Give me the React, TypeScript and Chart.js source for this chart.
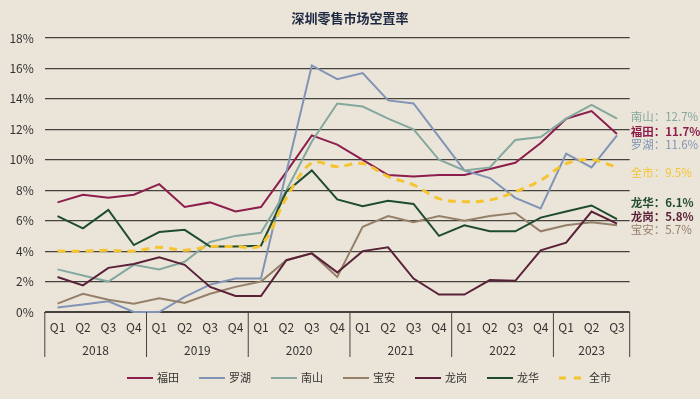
import React, { useEffect, useRef } from 'react';
import { Chart, registerables } from 'chart.js';

Chart.register(...registerables);

// ---------- data ----------
const YEARS = ['2018', '2019', '2020', '2021', '2022', '2023'];
const QUARTERS = ['Q1', 'Q2', 'Q3', 'Q4'];
const LAST_YEAR_QUARTERS = 3;
const CATEGORIES = YEARS.flatMap((y, i) =>
  (i === YEARS.length - 1 ? QUARTERS.slice(0, LAST_YEAR_QUARTERS) : QUARTERS).map((q) => `${y} ${q}`)
);

const FUTIAN = [7.2, 7.7, 7.5, 7.7, 8.4, 6.9, 7.2, 6.6, 6.9, 9.2, 11.6, 11.0, 10.0, 9.0, 8.9, 9.0, 9.0, 9.4, 9.8, 11.1, 12.7, 13.2, 11.7];
const LUOHU = [0.3, 0.5, 0.7, 0.0, 0.0, 1.0, 1.8, 2.2, 2.2, 9.2, 16.2, 15.3, 15.7, 13.9, 13.7, 11.5, 9.3, 8.8, 7.5, 6.8, 10.4, 9.5, 11.6];
const NANSHAN = [2.8, 2.4, 2.0, 3.1, 2.8, 3.3, 4.6, 5.0, 5.2, 8.0, 11.2, 13.7, 13.5, 12.7, 12.0, 10.0, 9.3, 9.5, 11.3, 11.5, 12.7, 13.6, 12.7];
const BAOAN = [0.55, 1.2, 0.8, 0.55, 0.9, 0.6, 1.2, 1.65, 2.0, 3.4, 3.85, 2.3, 5.6, 6.3, 5.9, 6.3, 6.0, 6.3, 6.5, 5.3, 5.7, 5.9, 5.7];
const LONGGANG = [2.3, 1.75, 2.9, 3.15, 3.6, 3.1, 1.65, 1.05, 1.05, 3.4, 3.85, 2.6, 4.0, 4.25, 2.2, 1.15, 1.15, 2.1, 2.05, 4.05, 4.55, 6.6, 5.8];
const LONGHUA = [6.3, 5.5, 6.7, 4.4, 5.25, 5.4, 4.3, 4.3, 4.35, 7.9, 9.3, 7.4, 6.95, 7.3, 7.1, 5.0, 5.7, 5.3, 5.3, 6.2, 6.6, 7.0, 6.1];
const CITY = [4.0, 4.0, 4.05, 4.0, 4.25, 4.05, 4.3, 4.3, 4.4, 7.5, 9.8, 9.55, 9.75, 8.9, 8.35, 7.45, 7.25, 7.35, 7.9, 8.65, 9.75, 10.0, 9.5];

const Y_MIN = 0;
const Y_MAX = 18;
const Y_STEP = 2;

const TITLE = '深圳零售市场空置率';

// ---------- styles ----------
const FONT = '"Noto Sans CJK SC", "Noto Sans", sans-serif';
const BG = '#ebe5d9';
const GRID = '#45413c';
const TEXT = '#333333';

const SERIES = [
  { name: '福田', data: FUTIAN, color: '#8c1d4d', width: 2, dash: [] as number[], tension: 0, bold: true },
  { name: '罗湖', data: LUOHU, color: '#8194b6', width: 2, dash: [] as number[], tension: 0, bold: false },
  { name: '南山', data: NANSHAN, color: '#84a89e', width: 2, dash: [] as number[], tension: 0, bold: false },
  { name: '宝安', data: BAOAN, color: '#95806a', width: 2, dash: [] as number[], tension: 0, bold: false },
  { name: '龙岗', data: LONGGANG, color: '#5a2139', width: 2, dash: [] as number[], tension: 0, bold: true },
  { name: '龙华', data: LONGHUA, color: '#1f4b2e', width: 2, dash: [] as number[], tension: 0, bold: true },
  { name: '全市', data: CITY, color: '#f4c431', width: 3, dash: [8, 6], tension: 0.35, bold: false },
];

// vertical nudges (px) of the end labels so they do not overlap
const LABEL_NUDGE: Record<string, number> = {
  南山: -2, 福田: -2.7, 罗湖: 9.5, 全市: 5.3, 龙华: -16.5, 龙岗: -7, 宝安: 4.8,
};

const titlePlugin = {
  id: 'customTitle',
  afterDraw(chart: any) {
    const { ctx, width } = chart;
    ctx.save();
    ctx.font = `bold 13px ${FONT}`;
    ctx.fillStyle = '#1d2842';
    ctx.textAlign = 'center';
    ctx.textBaseline = 'middle';
    ctx.fillText(TITLE, width / 2, 18);
    ctx.restore();
  },
};

const yearAxisPlugin = {
  id: 'yearAxis',
  afterDraw(chart: any) {
    const { ctx } = chart;
    const xs = chart.scales.x;
    const half = (xs.getPixelForValue(1) - xs.getPixelForValue(0)) / 2;
    const top = xs.top;
    const bottom = xs.top + 45;
    ctx.save();
    ctx.strokeStyle = GRID;
    ctx.lineWidth = 1;
    ctx.fillStyle = TEXT;
    ctx.font = `12px ${FONT}`;
    ctx.textAlign = 'center';
    ctx.textBaseline = 'middle';
    YEARS.forEach((y, yi) => {
      const idx = CATEGORIES.map((c, i) => (c.startsWith(y) ? i : -1)).filter((i) => i >= 0);
      const left = xs.getPixelForValue(idx[0]) - half;
      const right = xs.getPixelForValue(idx[idx.length - 1]) + half;
      ctx.beginPath();
      ctx.moveTo(left, top);
      ctx.lineTo(left, bottom);
      if (yi === YEARS.length - 1) {
        ctx.moveTo(right, top);
        ctx.lineTo(right, bottom);
      }
      ctx.stroke();
      ctx.fillText(y, (left + right) / 2, top + 38);
    });
    ctx.restore();
  },
};

const endLabelPlugin = {
  id: 'endLabels',
  afterDatasetsDraw(chart: any) {
    const { ctx, chartArea } = chart;
    const ys = chart.scales.y;
    ctx.save();
    ctx.textAlign = 'left';
    ctx.textBaseline = 'middle';
    SERIES.forEach((s) => {
      const last = s.data[s.data.length - 1];
      const py = ys.getPixelForValue(last) + (LABEL_NUDGE[s.name] || 0);
      ctx.font = `${s.bold ? 'bold ' : ''}11.5px ${FONT}`;
      ctx.fillStyle = s.color;
      ctx.fillText(`${s.name}：${last.toFixed(1)}%`, chartArea.right + 1, py);
    });
    ctx.restore();
  },
};

const LEGEND_CX = 369;
const LEGEND_Y = 378;
const legendPlugin = {
  id: 'customLegend',
  afterDraw(chart: any) {
    const { ctx } = chart;
    const lineLen = 26;
    const lineGap = 4;
    const itemGap = 20;
    ctx.save();
    ctx.font = `11px ${FONT}`;
    const widths = SERIES.map((s) => lineLen + lineGap + ctx.measureText(s.name).width);
    const total = widths.reduce((a, b) => a + b, 0) + itemGap * (SERIES.length - 1);
    let x = LEGEND_CX - total / 2;
    SERIES.forEach((s, i) => {
      ctx.beginPath();
      ctx.strokeStyle = s.color;
      ctx.lineWidth = s.width;
      ctx.setLineDash(s.dash.length ? [7, 8] : []);
      ctx.moveTo(x, LEGEND_Y);
      ctx.lineTo(x + lineLen, LEGEND_Y);
      ctx.stroke();
      ctx.setLineDash([]);
      ctx.fillStyle = TEXT;
      ctx.textAlign = 'left';
      ctx.textBaseline = 'middle';
      ctx.fillText(s.name, x + lineLen + lineGap, LEGEND_Y);
      x += widths[i] + itemGap;
    });
    ctx.restore();
  },
};

export default function App() {
  const canvasRef = useRef<HTMLCanvasElement | null>(null);

  useEffect(() => {
    if (!canvasRef.current) return;
    Chart.defaults.font.family = FONT;
    const chart = new Chart(canvasRef.current, {
      type: 'line',
      data: {
        labels: CATEGORIES,
        datasets: SERIES.map((s, i) => ({
          label: s.name,
          data: s.data,
          borderColor: s.color,
          backgroundColor: s.color,
          borderWidth: s.width,
          borderDash: s.dash,
          tension: s.tension,
          pointRadius: 0,
          pointHoverRadius: 0,
          fill: false,
          clip: false as any,
          order: SERIES.length - i,
        })),
      },
      options: {
        responsive: false,
        animation: false,
        events: [],
        layout: { padding: { top: 38, right: 70.3, bottom: 40, left: 0 } },
        plugins: {
          legend: { display: false },
          title: { display: false },
          tooltip: { enabled: false },
        },
        scales: {
          x: {
            type: 'category',
            offset: true,
            grid: { display: false, drawTicks: false },
            border: { display: true, color: GRID, width: 1 },
            ticks: {
              autoSkip: false,
              maxRotation: 0,
              padding: 8,
              color: TEXT,
              font: { size: 12, family: FONT },
              callback: (_v: any, i: number) => CATEGORIES[i].split(' ')[1],
            },
            afterFit: (scale: any) => {
              scale.height = 47;
            },
          },
          y: {
            min: Y_MIN,
            max: Y_MAX,
            ticks: {
              stepSize: Y_STEP,
              padding: 11,
              color: TEXT,
              font: { size: 12, family: FONT },
              callback: (v: any) => `${v}%`,
            },
            grid: { color: GRID, lineWidth: 1.2, drawTicks: false },
            border: { display: false },
            afterFit: (scale: any) => {
              scale.width = 44.8;
            },
          },
        },
      },
      plugins: [titlePlugin, yearAxisPlugin, endLabelPlugin, legendPlugin],
    });
    return () => chart.destroy();
  }, []);

  return (
    <div style={{ position: 'fixed', left: 0, top: 0, width: 700, height: 399, background: BG }}>
      <canvas ref={canvasRef} width={700} height={399} style={{ display: 'block' }} />
    </div>
  );
}
